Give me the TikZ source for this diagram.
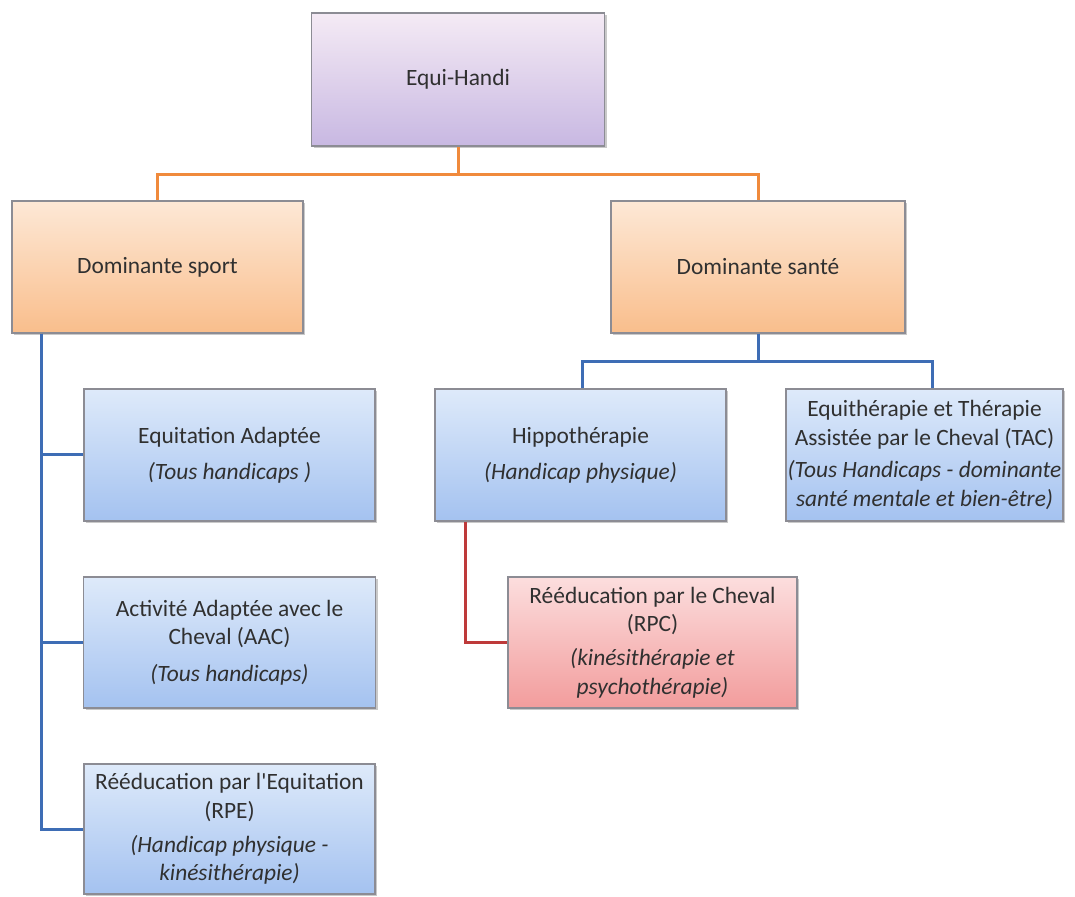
\documentclass[tikz,border=0pt]{standalone}
\usepackage{fontspec}
\setmainfont{Carlito}
\usetikzlibrary{shadows}
\definecolor{txt}{HTML}{303030}
\definecolor{bord}{HTML}{8C8C94}
\definecolor{lorange}{HTML}{F08A3C}
\definecolor{lblue}{HTML}{3E6DB5}
\definecolor{lred}{HTML}{BE3A3A}
\tikzset{
  boxbase/.style={draw=bord, line width=0.6pt, align=center, text=txt,
    font=\fontsize{11.7}{14.2}\selectfont, inner sep=1pt,
    drop shadow={shadow xshift=1.2pt, shadow yshift=-1.2pt, opacity=0.35, fill=black!60}},
  purplebox/.style={boxbase, top color=violet!8!white, bottom color={rgb,255:red,200;green,184;blue,226}},
  orangebox/.style={boxbase, top color={rgb,255:red,253;green,232;blue,214}, bottom color={rgb,255:red,249;green,190;blue,140}},
  bluebox/.style={boxbase, top color={rgb,255:red,222;green,234;blue,250}, bottom color={rgb,255:red,164;green,194;blue,240}},
  redbox/.style={boxbase, top color={rgb,255:red,252;green,222;blue,222}, bottom color={rgb,255:red,242;green,156;blue,156}},
  orangeline/.style={draw=lorange, line width=1.5pt},
  blueline/.style={draw=lblue, line width=1.5pt},
  redline/.style={draw=lred, line width=1.5pt},
}
\begin{document}
\begin{tikzpicture}[x=0.5pt, y=-0.5pt]
\useasboundingbox (0,0) rectangle (1075,897);
\fill[white] (0,0) rectangle (1075,897);

\node[purplebox, minimum width=146.5pt, minimum height=66.5pt] (eh) at (458,79.5) {Equi-Handi};
\node[orangebox, minimum width=145.5pt, minimum height=66pt] (sport) at (157.5,267) {Dominante sport};
\node[orangebox, minimum width=147pt, minimum height=66pt] (sante) at (758,267) {Dominante santé};

\node[bluebox, minimum width=145.5pt, minimum height=66pt] (ea) at (229.5,455)
  {Equitation Adaptée\\[4pt] \textit{(Tous handicaps )}};
\node[bluebox, minimum width=146pt, minimum height=65.5pt] (aac) at (229.5,642.5)
  {Activité Adaptée avec le\\ Cheval (AAC)\\[4pt] \textit{(Tous handicaps)}};
\node[bluebox, minimum width=145.5pt, minimum height=65pt] (rpe) at (229.5,829)
  {Rééducation par l\textquotesingle Equitation\\ (RPE)\\[3pt] \textit{(Handicap physique -}\\ \textit{kinésithérapie)}};

\node[bluebox, minimum width=145.5pt, minimum height=66pt] (hippo) at (580.5,455)
  {Hippothérapie\\[4pt] \textit{(Handicap physique)}};
\node[bluebox, minimum width=138.5pt, minimum height=66pt, inner sep=0.5pt] (tac) at (924.5,455)
  {Equithérapie et Thérapie\\ Assistée par le Cheval (TAC)\\[2pt] \textit{(Tous Handicaps - dominante}\\ \textit{santé mentale et bien-être)}};
\node[redbox, minimum width=144.5pt, minimum height=65.5pt] (rpc) at (652.5,642.5)
  {Rééducation par le Cheval\\ (RPC)\\[3pt] \textit{(kinésithérapie et}\\ \textit{psychothérapie)}};

\coordinate (o) at (458,175);
\draw[orangeline] (eh.south) -- (o);
\draw[orangeline] (o) -| (sport.north);
\draw[orangeline] (o) -| (sante.north);

\draw[blueline] ([xshift=15pt]sport.south west) |- (ea.west);
\draw[blueline] ([xshift=15pt]sport.south west) |- (aac.west);
\draw[blueline] ([xshift=15pt]sport.south west) |- (rpe.west);

\coordinate (b) at (758,362);
\draw[blueline] (sante.south) -- (b);
\draw[blueline] (b) -| ([xshift=1.2pt]hippo.north);
\draw[blueline] (b) -| ([xshift=4pt]tac.north);

\draw[redline] ([xshift=15.5pt]hippo.south west) |- (rpc.west);
\end{tikzpicture}
\end{document}
